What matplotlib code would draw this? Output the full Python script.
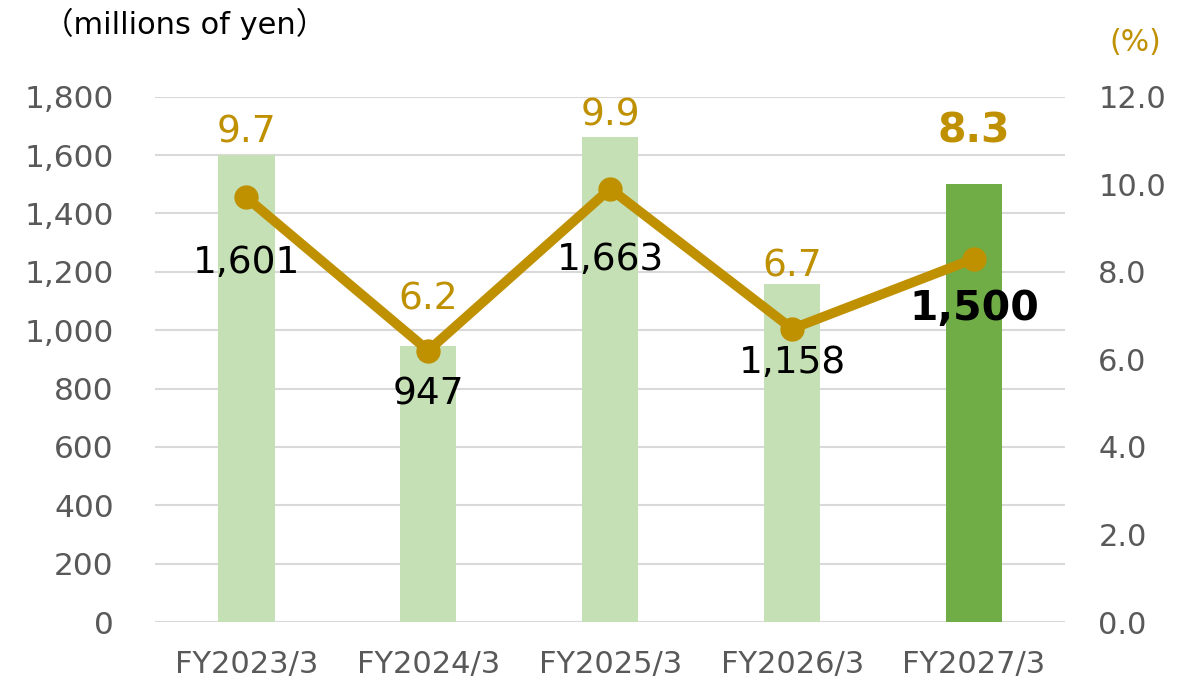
import matplotlib.pyplot as plt

years = ["FY2023/3", "FY2024/3", "FY2025/3", "FY2026/3", "FY2027/3"]
profit = [1601, 947, 1663, 1158, 1500]
margin = [9.7, 6.2, 9.9, 6.7, 8.3]

light = "#C5E0B4"
dark = "#70AD47"
gold = "#BF9000"
grey = "#595959"

plt.rcParams["font.family"] = ["DejaVu Sans", "Noto Sans CJK JP"]

fig = plt.figure(figsize=(11.86, 6.83), dpi=100)
ax = fig.add_axes([0.131, 0.0893, 0.767, 0.769])
x = range(len(years))
colors = [light] * (len(years) - 1) + [dark]
ax.bar(x, profit, width=0.31, color=colors, zorder=2)
ax.set_ylim(0, 1800)
ax.set_yticks(range(0, 1801, 200))
ax.set_yticklabels([f"{v:,}" for v in range(0, 1801, 200)])
ax.set_xlim(-0.5, len(years) - 0.5)
ax.set_xticks(list(x))
ax.set_xticklabels(years)
ax.grid(axis="y", color="#D9D9D9", lw=1.5, zorder=0)
ax.tick_params(axis="y", length=0, pad=30, labelsize=22.5, labelcolor=grey)
ax.tick_params(axis="x", length=0, pad=20, labelsize=22, labelcolor=grey)
for s in ax.spines.values():
    s.set_visible(False)

ax2 = ax.twinx()
ax2.plot(x, margin, color=gold, lw=7, marker="o", ms=16.5, zorder=3)
ax2.set_ylim(0, 12)
ax2.set_yticks([0, 2, 4, 6, 8, 10, 12])
ax2.set_yticklabels([f"{v:.1f}" for v in [0, 2, 4, 6, 8, 10, 12]])
ax2.tick_params(axis="y", length=0, pad=24, labelsize=22, labelcolor=grey)
for s in ax2.spines.values():
    s.set_visible(False)

# hand-placed label offsets (points), as in the original
below = [47.5, 31.7, 51, 24.5, 36]
above = [47, 37, 52.5, 45, 91.5]
last = len(years) - 1
for i in x:
    bold = i == last
    ax2.annotate(f"{profit[i]:,}", (i, margin[i]), xytext=(0, -below[i]),
                 textcoords="offset points", ha="center", va="center",
                 fontsize=29.5 if bold else 27, fontweight="bold" if bold else "normal",
                 color="black", zorder=5)
    ax2.annotate(f"{margin[i]:.1f}", (i, margin[i]), xytext=(0, above[i]),
                 textcoords="offset points", ha="center", va="center",
                 fontsize=29.5 if bold else 27, fontweight="bold" if bold else "normal",
                 color=gold, zorder=5)

fig.text(0.036, 0.988, "（millions of yen）", ha="left", va="top", fontsize=22, color="black")
fig.text(0.979, 0.938, "(%)", ha="right", va="center", fontsize=21.5, color=gold)

fig.savefig("out.png", dpi=100)
